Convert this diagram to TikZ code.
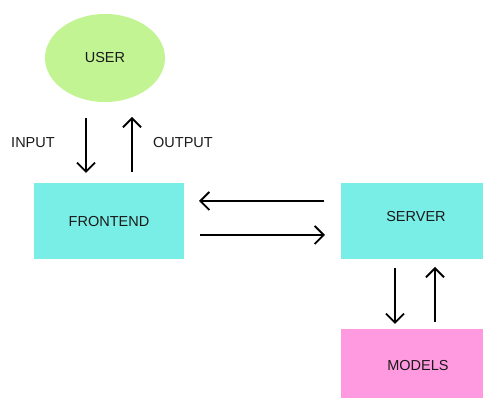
\documentclass[tikz,border=0pt]{standalone}
\usepackage{fontspec}
\setmainfont{Liberation Sans}
\usetikzlibrary{arrows.meta,shapes.geometric}
\definecolor{usergreen}{HTML}{C2F494}
\definecolor{boxcyan}{HTML}{79EEE6}
\definecolor{modelpink}{HTML}{FF99E0}
\definecolor{txt}{HTML}{1A1A1A}
\tikzset{
  block/.style={rectangle, inner sep=0pt, font=\fontsize{14.5}{17}\selectfont, text=txt},
  flow/.style={line width=1.8pt, -{Straight Barb[length=9pt,width=18pt,line width=1.8pt]}},
  lbl/.style={font=\fontsize{14.5}{17}\selectfont, text=txt, inner sep=0pt}
}
\begin{document}
\begin{tikzpicture}[x=1pt,y=-1pt]
  \useasboundingbox (0,0) rectangle (483,398);
  % blocks
  \node[block, ellipse, fill=usergreen, minimum width=120, minimum height=88] (user) at (105,58) {USER};
  \node[block, fill=boxcyan, minimum width=150, minimum height=76] (front) at (109,221) {};
  \node[lbl] at (109,222) {FRONTEND};
  \node[block, fill=boxcyan, minimum width=142, minimum height=76] (server) at (412,221) {};
  \node[lbl] at (416,217) {SERVER};
  \node[block, fill=modelpink, minimum width=142, minimum height=69] (models) at (412,363.5) {};
  \node[lbl] at (418,366) {MODELS};
  % connector endpoints
  \coordinate (u1) at (86,118);  \coordinate (f1) at (86,173);
  \coordinate (f2) at (132,172); \coordinate (u2) at (132,117);
  \coordinate (s1) at (324,201); \coordinate (f3) at (199,201);
  \coordinate (f4) at (200,235); \coordinate (s2) at (325,235);
  \coordinate (s3) at (395,268); \coordinate (m1) at (395,324);
  \coordinate (m2) at (435,322); \coordinate (s4) at (435,267);
  % connectors
  \draw[flow] (u1) -- (f1);
  \draw[flow] (f2) -- (u2);
  \draw[flow] (s1) -- (f3);
  \draw[flow] (f4) -- (s2);
  \draw[flow] (s3) -- (m1);
  \draw[flow] (m2) -- (s4);
  % labels
  \node[lbl] (inlbl) at (33,143) {INPUT};
  \node[lbl] (outlbl) at (183,143) {OUTPUT};
\end{tikzpicture}
\end{document}
